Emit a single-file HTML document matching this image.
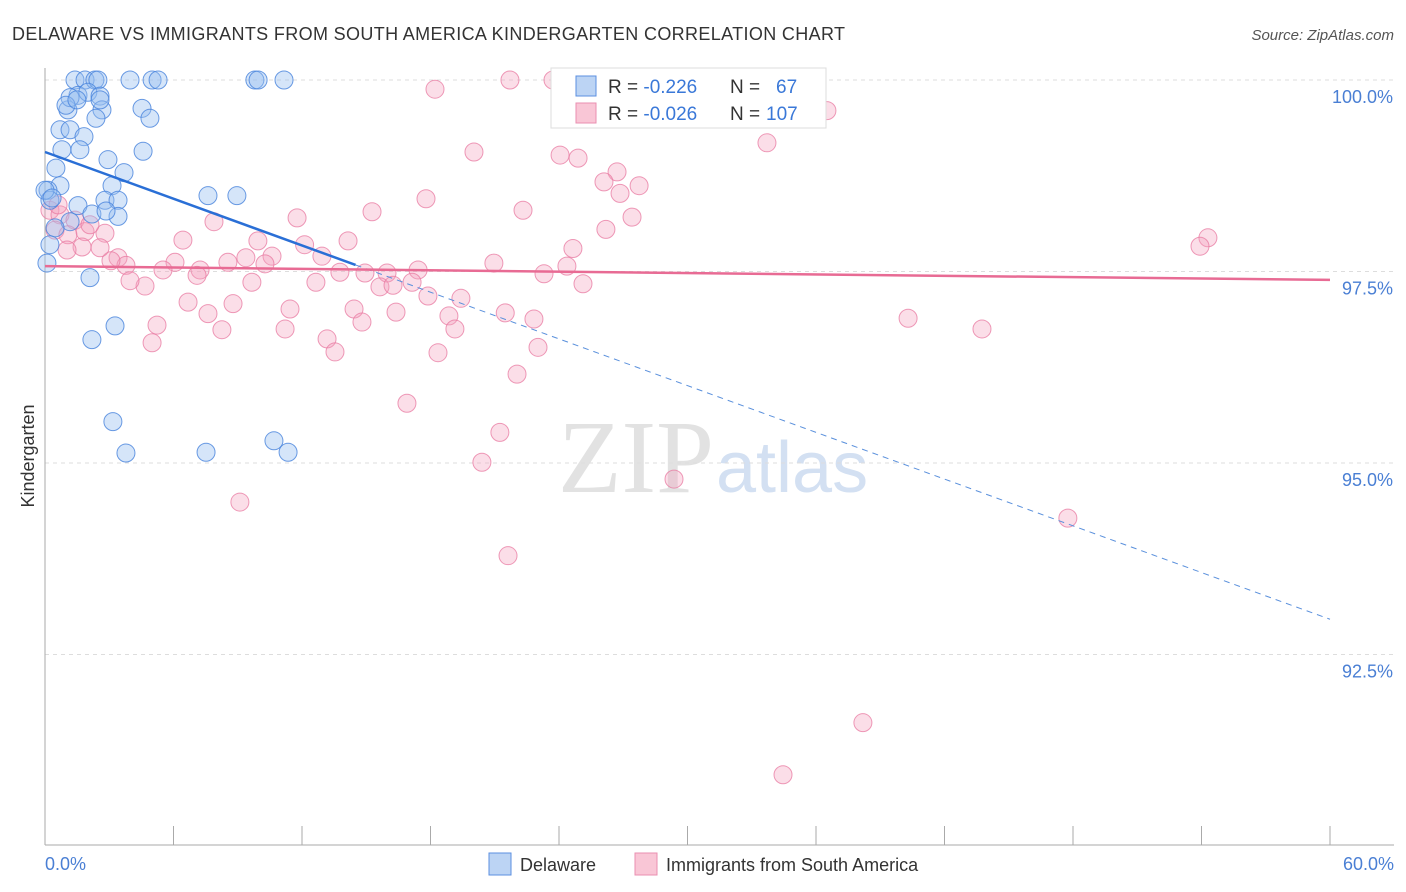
<!DOCTYPE html>
<html><head><meta charset="utf-8"><style>
body{margin:0;background:#fff;font-family:"Liberation Sans",sans-serif;}
svg{display:block}
</style></head><body>
<svg id="chart" width="1406" height="892">
<text x="12" y="40" font-size="18" fill="#333" textLength="833">DELAWARE VS IMMIGRANTS FROM SOUTH AMERICA KINDERGARTEN CORRELATION CHART</text>
<text x="1394" y="40" font-size="15" fill="#555" font-style="italic" text-anchor="end">Source: ZipAtlas.com</text>
<text x="714" y="492" font-size="104" fill="#e2e2e2" font-family="Liberation Serif" text-anchor="end">ZIP</text>
<text x="716" y="492" font-size="72" fill="#d3e0f2">atlas</text>
<g id="grid"></g><g id="axes"></g><g id="pts"></g><g id="trend"></g>
<text transform="translate(34,456) rotate(-90)" font-size="18" fill="#333" text-anchor="middle">Kindergarten</text>
<text x="45" y="870" font-size="18" fill="#4a7fd4">0.0%</text>
<text x="1394" y="870" font-size="18" fill="#4a7fd4" text-anchor="end">60.0%</text>
<g>
<rect x="551" y="68" width="275" height="60" fill="#fff" stroke="#ddd"/>
<rect x="576" y="76" width="20" height="20" fill="#bcd4f4" stroke="#5b8fe0"/>
<rect x="576" y="103" width="20" height="20" fill="#f9c6d6" stroke="#ea8fb0"/>
<text x="608" y="93" font-size="19" fill="#333">R = <tspan fill="#3a78d8">-0.226</tspan><tspan x="730">N =</tspan><tspan x="776" fill="#3a78d8">67</tspan></text>
<text x="608" y="120" font-size="19" fill="#333">R = <tspan fill="#3a78d8">-0.026</tspan><tspan x="730">N =</tspan><tspan x="766" fill="#3a78d8">107</tspan></text>
</g>
<g><rect x="489" y="853" width="22" height="22" fill="#bcd4f4" stroke="#5b8fe0"/><text x="520" y="871" font-size="18" fill="#333">Delaware</text></g>
<g><rect x="635" y="853" width="22" height="22" fill="#f9c6d6" stroke="#ea8fb0"/><text x="666" y="871" font-size="18" fill="#333">Immigrants from South America</text></g>
</svg>
<script>
const yTicks=[100,97.5,95,92.5];
const yTickLabels=["100.0%","97.5%","95.0%","92.5%"];
const blueX=[1.40,1.87,2.33,2.47,3.97,5.00,5.28,9.80,9.95,11.16,1.07,1.54,2.0,2.57,1.17,0.98,2.66,2.38,0.70,1.17,1.82,0.79,1.63,2.94,4.53,4.90,4.58,0.51,3.69,0.70,3.13,0.14,0.23,1.54,2.19,2.80,3.41,3.41,2.85,7.61,8.96,1.17,0.47,0.23,0.09,2.10,3.27,2.19,3.17,3.78,7.52,10.69,11.35,0,0.33,2.57,1.49];
const blueY=[100,100,100,100,100,100,100,100,100,100,99.61,99.80,99.84,99.79,99.77,99.67,99.61,99.50,99.35,99.35,99.26,99.09,99.09,98.96,99.63,99.50,99.07,98.85,98.79,98.62,98.62,98.56,98.43,98.36,98.25,98.43,98.43,98.22,98.29,98.49,98.49,98.15,98.07,97.85,97.61,97.42,96.79,96.61,95.54,95.13,95.14,95.29,95.14,98.56,98.46,99.74,99.74];
const pinkX=[21.71,23.72,27.22,35.25,18.21,31.84,36.51,20.03,24.05,24.89,33.71,26.71,26.10,27.74,26.85,17.79,22.32,15.27,27.41,11.77,26.19,7.89,6.44,9.94,14.15,12.12,24.65,54.30,53.93,10.60,12.93,9.38,6.07,10.27,20.96,24.37,3.41,3.78,3.08,5.51,7.24,7.10,8.54,13.77,15.97,17.42,23.30,14.94,17.14,15.64,16.25,12.65,4.67,3.97,9.66,25.12,6.68,8.78,11.44,14.43,16.39,17.88,19.42,21.49,7.61,14.80,18.86,22.83,5.23,8.26,11.21,19.14,40.30,43.75,5.00,13.17,13.54,18.35,23.02,22.04,16.90,21.24,20.40,29.37,9.10,47.76,21.62,38.19,34.46,0.23,0.70,1.40,0.47,1.07,1.87,2.80,2.10,1.73,2.57,1.03,0.61];
const pinkY=[100,100,100,100,99.88,99.84,99.60,99.06,99.02,98.98,99.18,98.80,98.67,98.62,98.52,98.45,98.30,98.28,98.21,98.20,98.05,98.15,97.91,97.90,97.90,97.85,97.80,97.94,97.83,97.70,97.70,97.68,97.62,97.60,97.61,97.57,97.68,97.58,97.64,97.52,97.52,97.45,97.62,97.49,97.48,97.52,97.47,97.48,97.36,97.30,97.32,97.36,97.31,97.38,97.36,97.34,97.10,97.08,97.01,97.01,96.97,97.18,97.15,96.96,96.95,96.84,96.92,96.88,96.80,96.74,96.75,96.75,96.89,96.75,96.57,96.62,96.45,96.44,96.51,96.16,95.78,95.40,95.01,94.79,94.49,94.28,93.79,91.61,90.93,98.30,98.24,98.17,98.04,97.98,98.02,98.00,98.11,97.82,97.81,97.78,98.37];
const blueTrend=[99.06,92.96];
const blueSolidEnd=14.5;
const pinkTrend=[97.57,97.39];
const NS="http://www.w3.org/2000/svg";
const sx=v=>45+v/60*1285;
const sy=v=>80+(100-v)/2.5*191.5;
function mk(parent,tag,attrs){const e=document.createElementNS(NS,tag);for(const k in attrs)e.setAttribute(k,attrs[k]);document.getElementById(parent).appendChild(e);return e;}
yTicks.forEach((t,i)=>{
 const l=mk('grid','line',{x1:45,x2:1394,y1:sy(t),y2:sy(t),stroke:'#ddd','stroke-dasharray':'4,4'});
 
 
 const tx=mk('grid','text',{x:1393,y:sy(t)+23,'font-size':18,fill:'#4a7fd4','text-anchor':'end'});
 tx.textContent=yTickLabels[i];
 
 
});
const ax=mk('axes','line',{x1:45,x2:45,y1:68,y2:845,stroke:'#aaa'});


const bx=mk('axes','line',{x1:45,x2:1394,y1:845,y2:845,stroke:'#aaa'});


for(let i=0;i<=10;i++){const v=i*6;const t=mk('axes','line',{x1:sx(v),x2:sx(v),y1:826,y2:845,stroke:'#aaa'});
 
 }
pinkX.forEach((x,i)=>{const c=mk('pts','circle',{cx:sx(x),cy:sy(pinkY[i]),r:9,fill:'rgba(244,160,188,0.35)',stroke:'rgba(232,120,160,0.75)','stroke-width':1});
 
 });
blueX.forEach((x,i)=>{const c=mk('pts','circle',{cx:sx(x),cy:sy(blueY[i]),r:9,fill:'rgba(150,190,240,0.4)',stroke:'rgba(70,130,220,0.8)','stroke-width':1});
 
 });
const by=x=>blueTrend[0]+(blueTrend[1]-blueTrend[0])*x/60;
const t1=mk('trend','line',{x1:sx(0),y1:sy(by(0)),x2:sx(blueSolidEnd),y2:sy(by(blueSolidEnd)),stroke:'#2a6fd6','stroke-width':2.5});


const t2=mk('trend','line',{x1:sx(blueSolidEnd),y1:sy(by(blueSolidEnd)),x2:sx(60),y2:sy(by(60)),stroke:'#5a90dc','stroke-width':1,'stroke-dasharray':'6,5'});


const t3=mk('trend','line',{x1:sx(0),y1:sy(pinkTrend[0]),x2:sx(60),y2:sy(pinkTrend[1]),stroke:'#e86b94','stroke-width':2.5});


</script>
</body></html>
